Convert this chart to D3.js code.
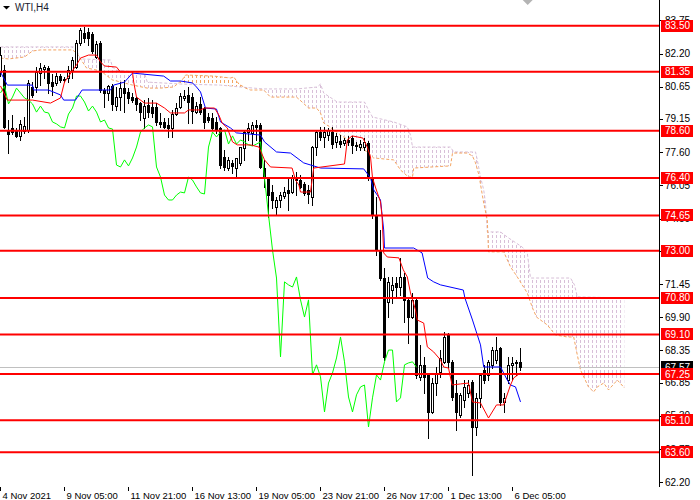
<!DOCTYPE html>
<html>
<head>
<meta charset="utf-8">
<script src="https://cdn.jsdelivr.net/npm/d3@7"></script>
<style>
  body { margin: 0; background: #fff; }
  svg { display: block; font-family: "Liberation Sans", Arial, sans-serif; }
</style>
</head>
<body>
<div id="chart"></div>
<script>
// WTI H4 candles, bar 0 = 4 Nov 2021
const opens = [
  81.34, 81.43, 78.64, 78.73, 78.64, 78.36, 78.59, 78.64, 80.64, 80.64,
  81.29, 81.48, 81.53, 80.87, 80.83, 81.15, 81.01, 81.06, 81.43, 81.57,
  82.69, 83.16, 83.21, 83.11, 82.04, 82.69, 80.50, 80.36, 80.69, 79.75,
  80.17, 80.59, 80.41, 80.17, 80.13, 79.89, 79.20, 79.80, 79.71, 79.71,
  79.01, 79.01, 78.87, 78.73, 79.38, 79.71, 80.13, 80.27, 80.17, 79.47,
  79.85, 79.66, 79.24, 79.20, 79.01, 78.73, 77.38, 76.86, 77.10, 76.86,
  77.10, 77.80, 78.54, 78.50, 78.87, 78.87, 76.86, 76.40, 75.74, 75.04,
  75.37, 75.56, 75.84, 75.74, 76.44, 76.30, 76.12, 75.84, 75.51, 77.84,
  78.54, 78.31, 78.40, 78.54, 78.08, 78.12, 78.03, 78.17, 78.26, 77.94,
  77.84, 77.84, 78.03, 76.40, 74.67, 73.04, 71.73, 70.61, 71.17, 71.50,
  71.31, 71.78, 70.71, 69.91, 70.71, 67.12, 67.68, 67.21, 65.48, 66.83,
  67.35, 67.82, 69.07, 67.82, 66.37, 65.34, 66.04, 66.37, 66.88, 64.78,
  66.14, 67.44, 67.21, 67.68, 67.91, 68.47, 65.95, 66.97, 67.68, 67.77,
  67.82
];
const highs = [
  82.51, 81.67, 79.10, 79.33, 78.73, 79.10, 79.24, 80.97, 80.87, 81.57,
  81.76, 81.67, 81.62, 81.25, 81.29, 81.25, 81.11, 81.62, 82.04, 82.83,
  83.39, 83.44, 83.39, 83.21, 82.79, 82.79, 80.59, 80.73, 80.78, 80.64,
  80.87, 80.97, 80.59, 80.36, 80.17, 79.94, 80.03, 80.13, 80.03, 79.89,
  79.43, 79.20, 79.20, 79.57, 79.89, 80.36, 80.50, 80.64, 80.36, 79.94,
  80.17, 79.71, 79.43, 79.43, 79.24, 78.78, 77.70, 77.38, 77.24, 77.33,
  77.84, 78.64, 78.96, 79.01, 79.10, 78.96, 77.24, 76.44, 76.07, 75.51,
  75.74, 75.98, 76.44, 76.54, 76.68, 76.54, 76.21, 76.07, 77.89, 78.64,
  78.78, 78.78, 78.73, 78.78, 78.50, 78.40, 78.26, 78.36, 78.36, 78.08,
  78.17, 78.26, 78.12, 76.44, 75.51, 73.97, 72.20, 71.78, 71.78, 71.78,
  72.67, 71.97, 70.85, 71.03, 70.85, 68.61, 68.05, 67.30, 67.07, 67.58,
  68.37, 69.21, 69.17, 67.91, 66.97, 66.37, 66.97, 66.97, 66.97, 66.37,
  67.30, 67.68, 67.91, 68.51, 68.98, 68.51, 66.37, 68.05, 68.05, 67.91,
  68.47
];
const lows = [
  81.15, 78.73, 77.56, 78.45, 78.31, 78.17, 78.50, 78.54, 80.17, 80.41,
  80.73, 81.06, 80.36, 80.27, 80.73, 80.87, 80.87, 80.87, 81.06, 81.53,
  82.60, 82.74, 82.60, 82.23, 81.99, 80.41, 79.71, 80.03, 79.57, 79.57,
  79.57, 79.47, 79.89, 79.94, 79.57, 79.10, 78.73, 79.24, 79.24, 78.87,
  78.78, 78.73, 78.31, 78.31, 79.33, 79.66, 80.03, 78.96, 78.96, 79.43,
  79.38, 78.73, 79.01, 78.64, 78.50, 76.86, 76.77, 76.77, 76.63, 76.44,
  77.00, 77.24, 78.17, 77.94, 78.17, 76.86, 75.98, 74.58, 75.00, 74.67,
  75.04, 75.46, 74.90, 75.70, 75.60, 75.93, 75.60, 75.23, 75.14, 77.47,
  78.17, 77.84, 78.17, 77.80, 77.84, 77.84, 77.94, 77.94, 77.56, 77.70,
  77.70, 77.70, 76.30, 74.53, 72.81, 71.64, 67.91, 69.91, 70.57, 70.80,
  70.94, 69.68, 68.70, 69.87, 67.07, 66.97, 66.37, 64.27, 65.44, 66.28,
  67.12, 67.77, 67.58, 66.04, 64.64, 65.25, 65.72, 66.18, 62.54, 64.41,
  65.72, 66.83, 66.97, 67.53, 67.77, 65.81, 65.48, 66.83, 66.97, 67.21,
  67.44
];
const closes = [
  82.13, 78.78, 78.45, 78.54, 78.36, 78.92, 78.82, 80.83, 80.27, 81.34,
  81.53, 81.57, 80.83, 80.69, 81.15, 80.97, 80.97, 81.43, 81.90, 82.69,
  83.30, 82.93, 82.93, 82.32, 82.65, 80.50, 80.36, 80.69, 79.85, 80.17,
  80.59, 80.36, 80.13, 80.03, 79.85, 79.47, 79.75, 79.47, 79.43, 79.01,
  78.92, 78.78, 78.73, 79.38, 79.66, 80.22, 80.22, 79.94, 79.52, 79.75,
  79.47, 79.01, 79.10, 78.73, 78.68, 77.00, 76.91, 77.24, 76.96, 77.33,
  77.84, 78.54, 78.73, 78.87, 78.78, 76.91, 76.44, 75.60, 75.37, 75.37,
  75.60, 75.74, 75.70, 76.44, 76.30, 75.98, 75.70, 75.65, 77.84, 78.54,
  78.31, 78.54, 78.64, 77.98, 78.36, 77.98, 78.17, 78.08, 77.94, 77.89,
  77.98, 78.08, 76.40, 74.67, 73.04, 71.73, 68.05, 71.55, 71.41, 71.31,
  71.78, 70.71, 69.91, 70.71, 67.21, 67.68, 67.12, 65.48, 66.83, 67.30,
  68.00, 68.98, 67.82, 66.18, 65.48, 66.28, 66.65, 66.74, 64.78, 66.14,
  67.21, 66.97, 67.82, 68.37, 68.37, 65.95, 66.14, 67.68, 67.77, 67.82,
  67.57
];

// Ichimoku lines: [bar, price]
const tenkan = [[0,80.69],[1.7,80.03],[8,80.03],[12.5,79.89],[15,80.13],[16,80.87],[19,81.67],[20,81.99],[22,82.13],[24,82.13],[25,81.81],[26,81.62],[29,81.57],[30,81.34],[33,81.34],[33.3,80.87],[34,80.17],[36,79.89],[39,79.89],[41,79.66],[42.5,79.43],[46,79.43],[47,79.57],[50,79.57],[51,79.66],[53.5,79.66],[54.6,79.33],[55.4,78.96],[56.7,78.73],[58,78.08],[59.2,77.94],[62.5,77.94],[64.6,77.84],[66,77.24],[67.5,76.91],[72.9,76.86],[73.75,76.30],[74.6,76.07],[75,75.74],[77.5,75.74],[78.3,76.86],[86,77.05],[86.7,78.17],[87.9,78.36],[90.6,78.26],[91.7,77.84],[92.5,77.38],[93,76.40],[93.8,75.93],[95,75.28],[95.4,74.58],[95.8,72.90],[96.7,72.71],[99.6,72.67],[100.7,72.11],[101.7,71.78],[102.5,71.03],[103.75,70.24],[104.2,69.77],[105.8,69.63],[106.7,68.52],[108.3,68.28],[110,67.91],[110.8,67.58],[112,67.53],[112.9,66.74],[115,66.79],[117,66.83],[118,65.95],[120,65.90],[122,65.20],[124,65.81],[125.8,65.81],[127.5,66.74],[128.3,67.07],[130,67.30]];
const kijun = [[0,81.34],[1.7,80.73],[8,80.73],[8.3,80.50],[12,80.50],[15,80.27],[15.8,80.03],[18.75,80.03],[20.4,80.50],[27.5,80.50],[28.3,80.73],[31,80.87],[33,81.29],[40.8,81.15],[42.5,80.92],[45,80.92],[48,80.83],[49,80.64],[50,80.41],[51,79.80],[51.25,79.66],[54,79.61],[55,79.01],[57.5,78.73],[59,78.50],[65,78.40],[66,78.08],[69,77.61],[72.5,77.56],[75.8,77.10],[80,76.86],[90.8,76.82],[92.5,76.40],[93.3,75.84],[94.2,75.60],[95,75.37],[95.8,73.97],[96,73.13],[103.3,73.13],[105.4,72.90],[106.8,71.73],[108.3,71.55],[110,71.41],[115.7,71.17],[116.1,70.80],[118,69.77],[120,68.61],[120.8,67.58],[125,67.58],[126.7,66.97],[127.5,66.74],[128.75,66.65],[130,65.95]];
const spanA = [[0,81.99],[2,81.95],[6,82.04],[8,82.32],[10,82.37],[18,82.37],[19,82.23],[20.5,81.81],[21.5,81.53],[25,81.39],[28,80.97],[33,80.73],[36.7,80.59],[40,80.59],[43.3,80.64],[45.4,80.97],[46.3,81.20],[53.3,81.15],[57.5,81.06],[58.3,81.11],[59.6,80.78],[61.25,80.59],[62.5,80.50],[65.8,80.50],[67.5,80.17],[74,80.17],[75.4,79.94],[77,79.66],[79,79.66],[80,79.43],[80.8,78.96],[82,78.82],[85,78.40],[90,77.84],[92,77.56],[93.3,77.33],[98.3,77.24],[100,76.77],[102,76.44],[103,76.44],[103.3,76.86],[112.5,76.96],[113,77.56],[116.7,77.56],[118,77.42],[118.75,77.10],[119.6,76.54],[120.8,75.23],[121.7,74.44],[122,72.95],[125.8,72.95],[127.5,72.25],[129.2,71.78],[131.7,71.03],[133,70.33],[134,69.91],[136.7,69.54],[138.75,69.07],[141.7,68.98],[143.3,68.98],[144.2,68.14],[145,67.44],[147,66.65],[148.3,66.42],[149.2,66.65],[150.8,66.83],[152,66.51],[154.2,66.97],[156,66.60]];
const spanB = [[0,82.51],[18.75,82.51],[19.5,82.13],[20,81.95],[27.5,81.90],[28,81.57],[29,81.43],[36,81.29],[36.7,80.87],[45,80.78],[55,80.73],[60,80.64],[65.8,80.55],[74,80.55],[79.2,80.64],[80,80.78],[80.8,80.36],[84.2,79.94],[91,79.94],[92,79.57],[93,79.24],[98.3,79.01],[101.7,78.78],[102.5,78.40],[103,77.84],[112.5,77.84],[113.3,77.61],[118.75,77.61],[119.2,77.24],[120,76.44],[120.8,75.84],[121.25,75.23],[121.7,73.88],[125,73.88],[127,73.60],[130.4,73.18],[131.7,72.90],[132.5,71.73],[142.5,71.73],[143.5,71.41],[144.2,70.85],[156,70.80]];
const chikouShift = 26;

const levels = [83.50, 81.35, 78.60, 76.40, 74.65, 73.00, 70.80, 69.10, 67.25, 65.10, 63.60];
const lastPrice = 67.57;
const priceTicks = [83.75, 82.20, 80.65, 79.15, 77.60, 76.05, 74.50, 73.00, 71.45, 69.90, 68.35, 66.85, 65.30, 63.75, 62.20];
const timeTicks = [0, 16, 32, 48, 64, 80, 96, 112, 128];
const timeLabels = ["4 Nov 2021", "9 Nov 05:00", "11 Nov 21:00", "16 Nov 13:00", "19 Nov 05:00",
                    "23 Nov 21:00", "26 Nov 17:00", "1 Dec 13:00", "6 Dec 05:00"];

const W = 700, H = 500;
const axisX = 659, plotBottom = 486;

const x = d3.scaleLinear().domain([0, 165]).range([0.5, 660.5]);
const y = d3.scaleLinear().domain([62.028, 84.699]).range([plotBottom, 0]);

const svg = d3.select("#chart").append("svg")
    .attr("width", W)
    .attr("height", H)
    .style("font-size", "10px");

svg.append("rect").attr("width", W).attr("height", H).attr("fill", "#fff");

const defs = svg.append("defs");
defs.append("clipPath").attr("id", "plotClip")
  .append("rect").attr("x", 0).attr("y", 0).attr("width", axisX).attr("height", plotBottom);

// vertical dotted hatch, one column per bar
function hatch(id, color) {
    let p = defs.append("pattern")
        .attr("id", id)
        .attr("patternUnits", "userSpaceOnUse")
        .attr("x", Math.floor(x(0)))
        .attr("y", 0)
        .attr("width", 4)
        .attr("height", 5);
    p.append("rect").attr("x", 0).attr("y", 0).attr("width", 1).attr("height", 3).attr("fill", color);
}
hatch("hatchSandy", "#F4A460");
hatch("hatchThistle", "#D8BFD8");

const upTo = d3.area().x(d => x(d[0])).y0(0).y1(d => y(d[1]));
const downTo = d3.area().x(d => x(d[0])).y0(plotBottom).y1(d => y(d[1]));
defs.append("clipPath").attr("id", "aboveB").append("path").attr("d", upTo(spanB));
defs.append("clipPath").attr("id", "aboveA").append("path").attr("d", upTo(spanA));

const plot = svg.append("g").attr("clip-path", "url(#plotClip)");

// cloud: sandy where span A is on top, thistle where span B is on top
plot.append("g").attr("clip-path", "url(#aboveB)")
  .append("path").attr("d", downTo(spanA)).attr("fill", "url(#hatchSandy)");
plot.append("g").attr("clip-path", "url(#aboveA)")
  .append("path").attr("d", downTo(spanB)).attr("fill", "url(#hatchThistle)");

const line = d3.line().x(d => x(d[0])).y(d => y(d[1]));
plot.append("path").attr("d", line(spanB))
    .attr("fill", "none").attr("stroke", "#D8BFD8").attr("stroke-dasharray", "3,2");
plot.append("path").attr("d", line(spanA))
    .attr("fill", "none").attr("stroke", "#F4A460").attr("stroke-dasharray", "3,2");

// bid line
plot.append("line")
    .attr("x1", 0).attr("x2", axisX)
    .attr("y1", Math.round(y(lastPrice)) + 0.5).attr("y2", Math.round(y(lastPrice)) + 0.5)
    .attr("stroke", "#C0C0C0");

// candles
const bars = closes.map((c, i) => ({i: i, o: opens[i], h: highs[i], l: lows[i], c: c}));
const cg = plot.append("g").attr("shape-rendering", "crispEdges");
cg.selectAll("line").data(bars).join("line")
    .attr("x1", d => x(d.i)).attr("x2", d => x(d.i))
    .attr("y1", d => Math.round(y(d.h))).attr("y2", d => Math.round(y(d.l)) + 1)
    .attr("stroke", "#000");
let bodyTop = d => Math.round(y(Math.max(d.o, d.c)));
let bodyBot = d => Math.round(y(Math.min(d.o, d.c)));
cg.selectAll("rect.body").data(bars).join("rect")
    .attr("class", "body")
    .attr("x", d => x(d.i) - 1.5)
    .attr("width", 3)
    .attr("y", bodyTop)
    .attr("height", d => Math.max(1, bodyBot(d) - bodyTop(d) + 1))
    .attr("fill", "#000");
cg.selectAll("rect.hollow").data(bars.filter(d => d.c > d.o && bodyBot(d) - bodyTop(d) > 1)).join("rect")
    .attr("class", "hollow")
    .attr("x", d => x(d.i) - 0.5)
    .attr("width", 1)
    .attr("y", d => bodyTop(d) + 1)
    .attr("height", d => bodyBot(d) - bodyTop(d) - 1)
    .attr("fill", "#fff");

// chikou = close shifted back
const chikou = closes.slice(chikouShift).map((c, i) => [i, c]);
plot.append("path").attr("d", line(chikou)).attr("fill", "none").attr("stroke", "#00FF00");
plot.append("path").attr("d", line(kijun)).attr("fill", "none").attr("stroke", "#0000FF");
plot.append("path").attr("d", line(tenkan)).attr("fill", "none").attr("stroke", "#FF0000");

// horizontal levels
plot.selectAll("line.level").data(levels).join("line")
    .attr("class", "level")
    .attr("x1", 0).attr("x2", axisX)
    .attr("y1", d => y(d)).attr("y2", d => y(d))
    .attr("stroke", "#FF0000").attr("stroke-width", 2);

// right price axis
const ax = svg.append("g");
ax.append("line").attr("x1", axisX + 0.5).attr("x2", axisX + 0.5).attr("y1", 0).attr("y2", plotBottom + 1)
    .attr("stroke", "#000").attr("shape-rendering", "crispEdges");
ax.selectAll("line.tick").data(priceTicks).join("line")
    .attr("class", "tick")
    .attr("x1", axisX).attr("x2", axisX + 4)
    .attr("y1", d => Math.round(y(d)) + 0.5).attr("y2", d => Math.round(y(d)) + 0.5)
    .attr("stroke", "#000").attr("shape-rendering", "crispEdges");
ax.selectAll("text.tick").data(priceTicks).join("text")
    .attr("class", "tick")
    .attr("x", axisX + 6).attr("y", d => y(d)).attr("dy", "0.35em")
    .attr("fill", "#000")
    .text(d => d.toFixed(2));

// bid label
ax.append("rect").attr("x", axisX + 2).attr("y", Math.round(y(lastPrice)) - 6)
    .attr("width", 32).attr("height", 12).attr("fill", "#000");
ax.append("text").attr("x", axisX + 6).attr("y", y(lastPrice)).attr("dy", "0.35em")
    .attr("fill", "#fff").text(lastPrice.toFixed(2));

// level labels
const lab = ax.selectAll("g.lvl").data(levels).join("g").attr("class", "lvl");
lab.append("rect")
    .attr("x", axisX + 2).attr("y", d => Math.round(y(d)) - 6)
    .attr("width", 32).attr("height", 12).attr("fill", "#FF0000");
lab.append("text")
    .attr("x", axisX + 6).attr("y", d => y(d)).attr("dy", "0.35em")
    .attr("fill", "#fff")
    .text(d => d.toFixed(2));

// bottom time axis
const tx = svg.append("g").style("font-size", "9.5px");
tx.selectAll("line").data(timeTicks).join("line")
    .attr("x1", d => x(d)).attr("x2", d => x(d))
    .attr("y1", plotBottom + 1).attr("y2", plotBottom + 5)
    .attr("stroke", "#000").attr("shape-rendering", "crispEdges");
tx.selectAll("text").data(timeTicks).join("text")
    .attr("x", d => x(d) + 2).attr("y", 499)
    .attr("fill", "#000")
    .text((d, i) => timeLabels[i]);

// title and shift marker
svg.append("path").attr("d", "M3,6 L10,6 L6.5,9.5 Z").attr("fill", "#000");
svg.append("text").attr("x", 15).attr("y", 11).attr("fill", "#1a1a2e").text("WTI,H4");
const sx = x(131.8);
svg.append("path").attr("d", `M${sx - 5},0 L${sx + 5},0 L${sx},5 Z`).attr("fill", "#B4B4B4");
</script>
</body>
</html>
